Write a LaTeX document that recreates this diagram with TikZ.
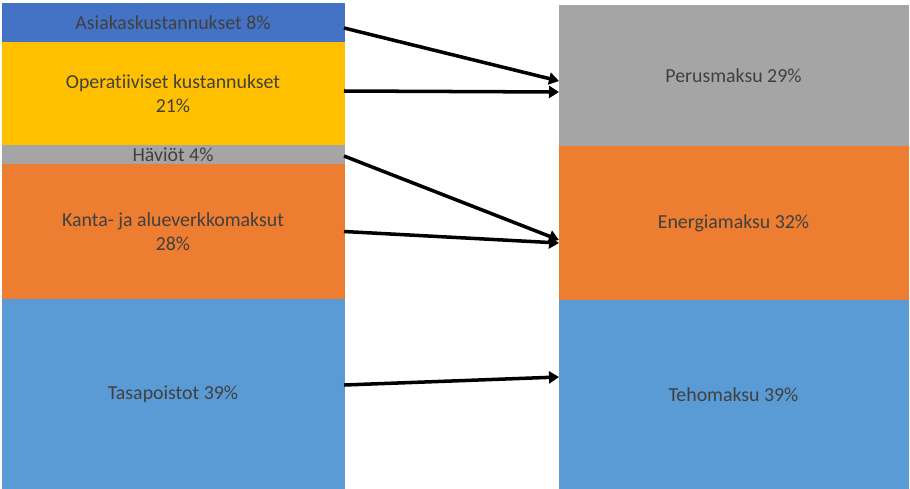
\documentclass[tikz,border=0pt]{standalone}
\usepackage{fontspec}
\setmainfont{Carlito}[Ligatures=NoCommon]
\usepackage{tikz}
\usetikzlibrary{positioning,calc,arrows.meta}
\usepackage{xcolor}
\definecolor{osablue}{HTML}{4472C4}
\definecolor{osayellow}{HTML}{FFC000}
\definecolor{osagray}{HTML}{A5A5A5}
\definecolor{osaorange}{HTML}{ED7D31}
\definecolor{osalight}{HTML}{5B9BD5}
\definecolor{osatext}{HTML}{404040}

\begin{document}
\begin{tikzpicture}[
    lohko/.style={rectangle,inner sep=0pt,outer sep=0pt,anchor=north west,align=center,
        text=osatext,font=\fontsize{11.3pt}{13.5pt}\selectfont},
    vari/.style={fill=#1,draw=#1,line width=0.4pt},
    vasen/.style={lohko,minimum width=6.84cm},
    oikea/.style={lohko,minimum width=6.98cm},
    nuoli/.style={line width=2pt,-{Triangle[length=0.2cm,width=0.24cm]}}
    ]
\useasboundingbox (0,0) rectangle (18.2,-9.78);
% kustannukset
\node[vasen,vari=osablue,minimum height=0.78cm] (asiakas) at (0.04,-0.06) {Asiakaskustannukset 8\%};
\node[vasen,vari=osayellow,minimum height=2.06cm,below=0pt of asiakas] (operat) {Operatiiviset kustannukset\\21\%};
\node[vasen,vari=osagray,minimum height=0.38cm,below=0pt of operat] (haviot) {Häviöt 4\%};
\node[vasen,vari=osaorange,minimum height=2.7cm,below=0pt of haviot] (kanta) {Kanta- ja alueverkkomaksut\\28\%};
\node[vasen,vari=osalight,minimum height=3.8cm,below=0pt of kanta] (tasapoistot) {Tasapoistot 39\%};
% maksut
\node[oikea,vari=osagray,minimum height=2.82cm] (perus) at (11.18,-0.1) {Perusmaksu 29\%};
\node[oikea,vari=osaorange,minimum height=3.08cm,below=0pt of perus] (energia) {Energiamaksu 32\%};
\node[oikea,vari=osalight,minimum height=3.78cm,below=0pt of energia] (teho) {Tehomaksu 39\%};
% nuolet
\draw[nuoli] ([yshift=-0.11cm]asiakas.east) -- ([yshift=-0.11cm]perus.west);
\draw[nuoli] ([yshift=0.05cm]operat.east) -- ([yshift=-0.33cm]perus.west);
\draw[nuoli] ([yshift=-0.03cm]haviot.east) -- ([yshift=-0.34cm]energia.west);
\draw[nuoli] (kanta.east) -- ([yshift=-0.4cm]energia.west);
\draw[nuoli] ([yshift=0.18cm]tasapoistot.east) -- ([yshift=0.35cm]teho.west);
\end{tikzpicture}
\end{document}
